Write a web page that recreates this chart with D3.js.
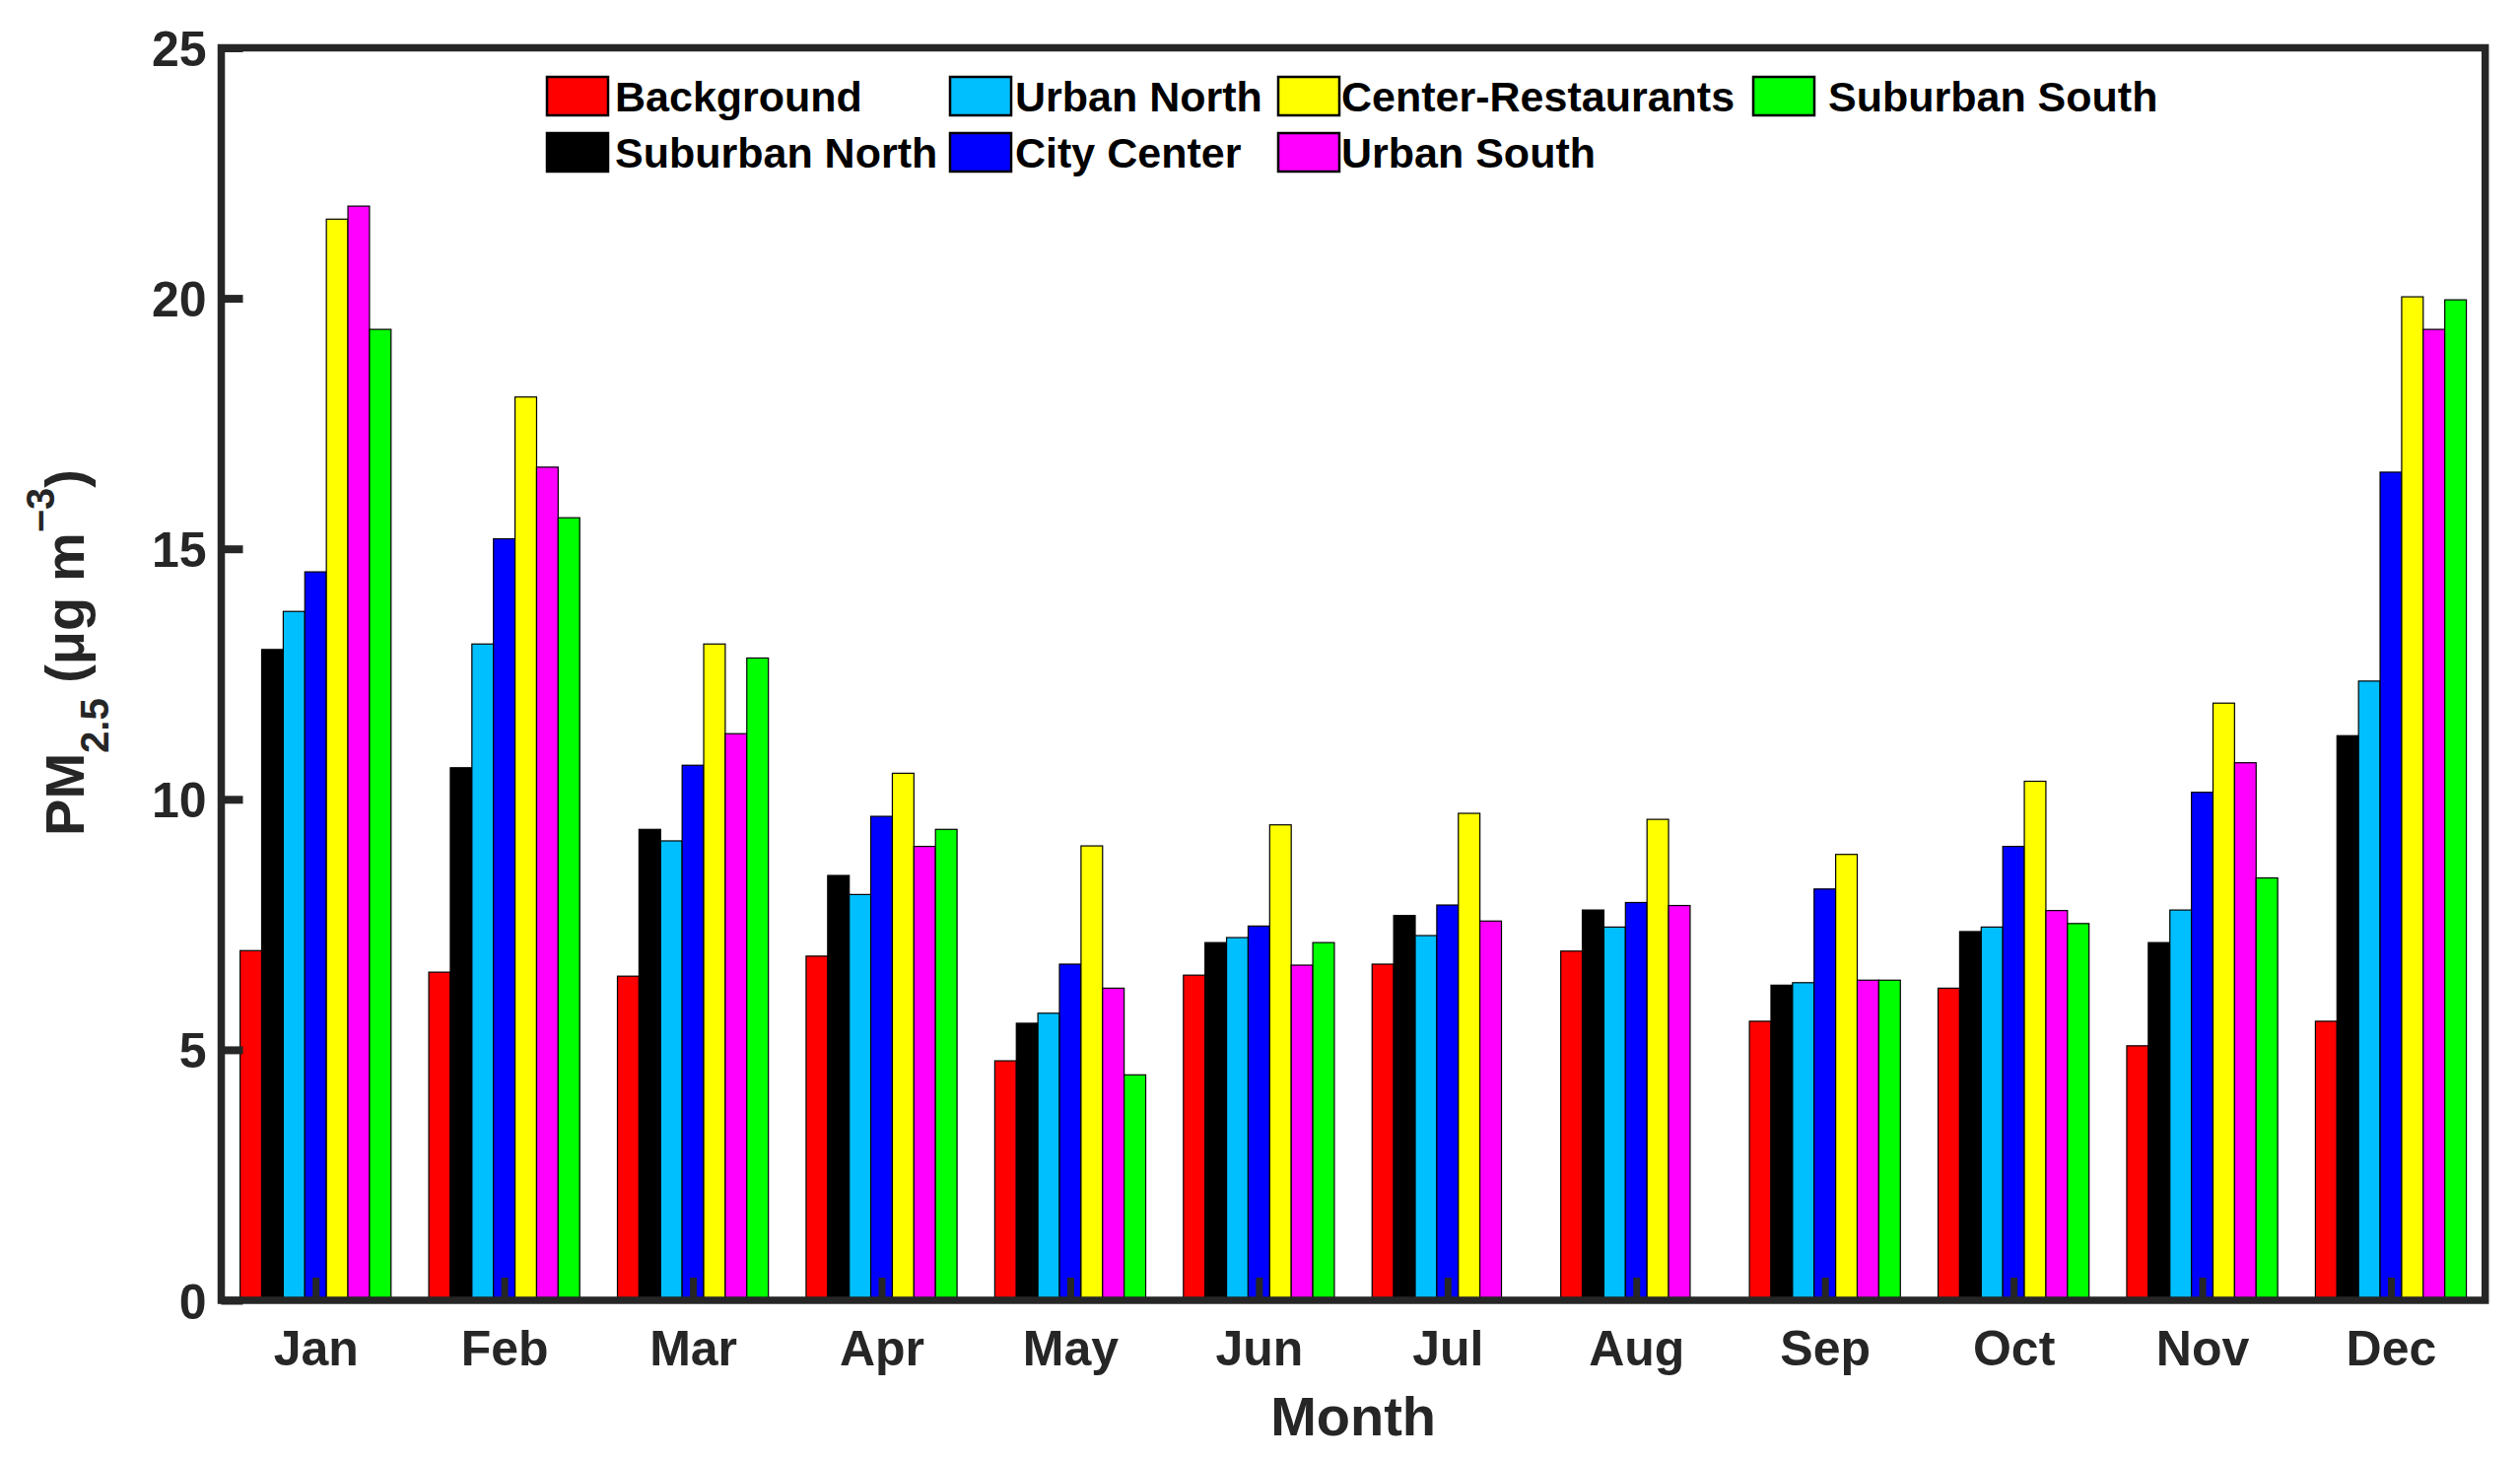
<!DOCTYPE html>
<html>
<head>
<meta charset="utf-8">
<script src="https://cdn.jsdelivr.net/npm/d3@7"></script>
<style>
  body { margin: 0; background: #fff; }
  text { font-family: "Liberation Sans", Arial, sans-serif; font-weight: bold; }
</style>
</head>
<body>
<div id="container"></div>
<script>
"use strict";

// months on the x axis
const months = ["Jan", "Feb", "Mar", "Apr", "May", "Jun", "Jul", "Aug", "Sep", "Oct", "Nov", "Dec"];

// sites, in bar order
const sites = ["Background", "Suburban North", "Urban North", "City Center",
    "Center-Restaurants", "Urban South", "Suburban South"];
const siteColors = ["#ff0000", "#000000", "#00bfff", "#0000ff", "#ffff00", "#ff00ff", "#00ff00"];

// monthly PM2.5 per site (null = no data)
const background = [6.98, 6.55, 6.47, 6.87, 4.78, 6.49, 6.71, 6.97, 5.57, 6.23, 5.08, 5.57];
const suburbanNorth = [12.99, 10.63, 9.40, 8.48, 5.53, 7.14, 7.68, 7.79, 6.29, 7.36, 7.14, 11.27];
const urbanNorth = [13.75, 13.10, 9.17, 8.10, 5.73, 7.24, 7.28, 7.45, 6.34, 7.45, 7.79, 12.36];
const cityCenter = [14.54, 15.20, 10.68, 9.66, 6.71, 7.47, 7.89, 7.94, 8.21, 9.06, 10.14, 16.53];
const centerRestaurants = [21.58, 18.03, 13.10, 10.52, 9.07, 9.49, 9.72, 9.60, 8.90, 10.36, 11.92, 20.03];
const urbanSouth = [21.84, 16.63, 11.31, 9.06, 6.23, 6.69, 7.57, 7.88, 6.39, 7.78, 10.73, 19.38];
const suburbanSouth = [19.38, 15.62, 12.82, 9.40, 4.50, 7.14, null, null, 6.39, 7.52, 8.43, 19.97];

const yTicks = [0, 5, 10, 15, 20, 25];

const seriesValues = [background, suburbanNorth, urbanNorth, cityCenter,
    centerRestaurants, urbanSouth, suburbanSouth];

// legend layout: column-major, 4 columns x 2 rows
const legendCols = [555, 964, 1297, 1779];
const legendTextX = [624, 1030, 1361, 1855];

const W = 2557, H = 1481;
const plot = { left: 224.5, right: 2521.7, top: 48.5, bottom: 1319 };
const axisColor = "#262626";

const svg = d3.select("#container")
    .append("svg")
    .attr("width", W)
    .attr("height", H);

// scales
const x = d3.scaleLinear().domain([0.5, 12.5]).range([plot.left, plot.right]);
const y = d3.scaleLinear().domain([0, 25]).range([plot.bottom, plot.top]);

// flatten into bar records
const groupWidth = 0.8;
const barW = groupWidth / sites.length;
const data = [];
seriesValues.forEach((vals, si) => {
    vals.forEach((v, mi) => {
        if (v === null) return;
        data.push({ site: si, month: mi + 1, value: v });
    });
});

// bars
svg.append("g")
    .selectAll("rect")
    .data(data)
    .join("rect")
    .attr("x", (d) => x(d.month - groupWidth / 2 + d.site * barW))
    .attr("width", x(barW) - x(0))
    .attr("y", (d) => y(d.value))
    .attr("height", (d) => y(0) - y(d.value))
    .attr("fill", (d) => siteColors[d.site])
    .attr("stroke", "#000")
    .attr("stroke-width", 1.2);

// y axis, ticks pointing inward
const yAxis = svg.append("g")
    .attr("transform", `translate(${plot.left}, 0)`)
    .call(d3.axisLeft(y).tickValues(yTicks).tickSize(-22).tickPadding(15).tickFormat(d3.format("d")));
yAxis.select(".domain").remove();
yAxis.selectAll(".tick line").attr("stroke", axisColor).attr("stroke-width", 8);
yAxis.selectAll(".tick text")
    .attr("fill", axisColor)
    .style("font-size", "50px")
    .attr("dy", "0.36em");

// x axis, ticks pointing inward
const xAxis = svg.append("g")
    .attr("transform", `translate(0, ${plot.bottom})`)
    .call(d3.axisBottom(x).tickValues(d3.range(1, 13)).tickSize(-23)
        .tickFormat((d) => months[d - 1]));
xAxis.select(".domain").remove();
xAxis.selectAll(".tick line").attr("stroke", axisColor).attr("stroke-width", 7);
xAxis.selectAll(".tick text")
    .attr("fill", axisColor)
    .style("font-size", "50px")
    .attr("y", 66)
    .attr("dy", 0);

// frame
svg.append("rect")
    .attr("x", plot.left)
    .attr("y", plot.top)
    .attr("width", plot.right - plot.left)
    .attr("height", plot.bottom - plot.top)
    .attr("fill", "none")
    .attr("stroke", axisColor)
    .attr("stroke-width", 7.5);

// x label
svg.append("text")
    .attr("x", (plot.left + plot.right) / 2)
    .attr("y", 1456)
    .attr("text-anchor", "middle")
    .attr("fill", axisColor)
    .style("font-size", "56px")
    .text("Month");

// y label with sub / superscripts
const yLabel = svg.append("text")
    .attr("transform", "translate(85, 662) rotate(-90)")
    .attr("text-anchor", "middle")
    .attr("fill", axisColor)
    .style("font-size", "56px");
yLabel.append("tspan").text("PM");
yLabel.append("tspan").attr("dy", 25).style("font-size", "40px").text("2.5");
yLabel.append("tspan").attr("dy", -25).text(" (μg m");
yLabel.append("tspan").attr("dy", -30).style("font-size", "40px").text("−3");
yLabel.append("tspan").attr("dy", 30).text(")");

// legend
const legend = svg.append("g");
sites.forEach((name, i) => {
    const col = Math.floor(i / 2), row = i % 2;
    const top = row === 0 ? 78 : 135;
    legend.append("rect")
        .attr("x", legendCols[col])
        .attr("y", top)
        .attr("width", 62)
        .attr("height", 39)
        .attr("fill", siteColors[i])
        .attr("stroke", "#000")
        .attr("stroke-width", 2.5);
    legend.append("text")
        .attr("x", legendTextX[col])
        .attr("y", top + 35)
        .attr("fill", "#000")
        .style("font-size", "43px")
        .text(name);
});
</script>
</body>
</html>
